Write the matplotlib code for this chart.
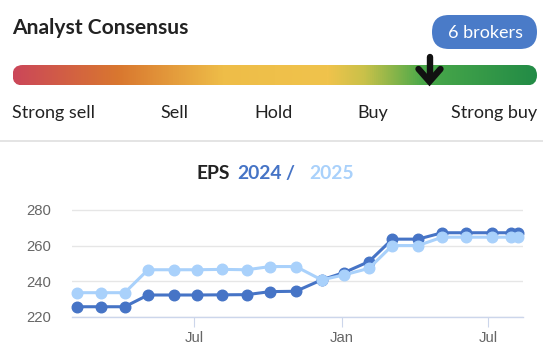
#!/usr/bin/env python3
"""Analyst consensus gauge with EPS 2024 / 2025 estimate history."""

import matplotlib

matplotlib.use("Agg")
import matplotlib.dates as mdates
import matplotlib.pyplot as plt
import numpy as np
import pandas as pd
from matplotlib.colors import LinearSegmentedColormap
from matplotlib.patches import FancyBboxPatch

W, H = 543, 354

# consensus gauge
rating_labels = ["Strong sell", "Sell", "Hold", "Buy", "Strong buy"]
broker_count = 6

# EPS estimate revisions
dates = pd.to_datetime([
    "2023-02-05", "2023-03-07", "2023-04-06", "2023-05-05", "2023-06-06",
    "2023-07-05", "2023-08-05", "2023-09-05", "2023-10-04", "2023-11-05",
    "2023-12-07", "2024-01-04", "2024-02-04", "2024-03-04", "2024-04-05",
    "2024-05-05", "2024-06-04", "2024-07-06", "2024-07-30", "2024-08-08",
])
eps_2024 = [225.6, 225.6, 225.6, 232.2, 232.2, 232.2, 232.3, 232.4, 234.1, 234.3,
            240.7, 244.8, 251.0, 263.6, 263.6, 267.2, 267.2, 267.2, 267.2, 267.2]
eps_2025 = [233.5, 233.5, 233.5, 246.4, 246.4, 246.4, 246.6, 246.4, 248.2, 248.2,
            240.7, 243.5, 247.2, 260.0, 260.0, 264.7, 264.7, 264.7, 264.7, 264.7]

DARK = "#4674c6"
LIGHT = "#a9d1fb"

fig = plt.figure(figsize=(W / 100, H / 100), dpi=100)

# overlay in pixel coordinates for the header widgets
bg = fig.add_axes([0, 0, 1, 1])
bg.set_xlim(0, W)
bg.set_ylim(H, 0)
bg.axis("off")

bg.text(12.5, 34, "Analyst Consensus", family="Lato", weight="bold",
        fontsize=15.1, color="#222222", va="baseline")

badge = FancyBboxPatch((432, 15), 105, 34, boxstyle="round,pad=0,rounding_size=17",
                       facecolor="#4a7bc8", edgecolor="none")
bg.add_patch(badge)
bg.text(485, 32.5, f"{broker_count} brokers", family="Lato", fontsize=13,
        color="white", ha="center", va="center")

# gradient bar
cmap = LinearSegmentedColormap.from_list("consensus", [
    (0.0, "#cb4759"), (0.2, "#d9772f"), (0.4, "#eebd48"), (0.6, "#f0c34c"),
    (0.67, "#c9c149"), (0.78, "#4ba94a"), (1.0, "#228b46"),
])
bar = FancyBboxPatch((12.5, 65), 524.5, 20.5, boxstyle="round,pad=0,rounding_size=10.25",
                     facecolor="none", edgecolor="none")
bg.add_patch(bar)
im = bg.imshow(np.linspace(0, 1, 512)[None, :], cmap=cmap, aspect="auto",
               extent=(12.5, 537, 85.5, 65), interpolation="bilinear")
im.set_clip_path(bar)

# marker arrow
bg.plot([429.5, 429.5], [57, 79], color="#111111", lw=4.6, solid_capstyle="round")
bg.plot([418.5, 429.5, 440.5], [69, 81.5, 69], color="#111111", lw=4.6,
        solid_capstyle="round", solid_joinstyle="miter")

label_x = [12.5, 174, 273, 372.5, 537]
label_ha = ["left", "center", "center", "center", "right"]
for text, x, ha in zip(rating_labels, label_x, label_ha):
    bg.text(x, 118.3, text, family="Lato", fontsize=13, color="#222222",
            ha=ha, va="baseline")

bg.plot([0, W], [141, 141], color="#e2e2e2", lw=1.3)

# chart title in pieces
title_parts = [("EPS", "#222222", 196.7), ("2024", DARK, 237.3),
               ("/", DARK, 285.0), ("2025", LIGHT, 309.3)]
for text, color, x in title_parts:
    bg.text(x, 179.3, text, family="Lato", weight="bold", fontsize=13.9,
            color=color, va="baseline")

# EPS chart
left, right = 71.7, 523.3
top, bottom = 208.2, 316.7
ax = fig.add_axes([left / W, 1 - bottom / H, (right - left) / W, (bottom - top) / H])
ax.plot(dates, eps_2024, color=DARK, lw=2.2, marker="o", ms=7.6, clip_on=False, zorder=3)
ax.plot(dates, eps_2025, color=LIGHT, lw=2.2, marker="o", ms=7.6, clip_on=False, zorder=4)

ax.set_xlim(pd.Timestamp("2023-01-30"), pd.Timestamp("2024-08-14"))
ax.set_ylim(220, 281)
ax.set_yticks([220, 240, 260, 280])
ax.xaxis.set_major_locator(mdates.MonthLocator(bymonth=[1, 7]))
ax.xaxis.set_major_formatter(mdates.DateFormatter("%b"))

for side in ("top", "right", "left"):
    ax.spines[side].set_visible(False)
ax.spines["bottom"].set_color("#ccd6eb")
ax.spines["bottom"].set_linewidth(1.0)
ax.grid(axis="y", color="#e6e6e6", lw=1.0)
ax.set_axisbelow(True)
ax.tick_params(axis="y", length=0, pad=15, labelsize=10.7, labelcolor="#666666")
ax.tick_params(axis="x", length=7.2, width=0.8, color="#ccd6eb", pad=3,
               labelsize=10.7, labelcolor="#666666")
for lab in ax.get_xticklabels() + ax.get_yticklabels():
    lab.set_family("Liberation Sans")

fig.savefig("out.png", dpi=100)
